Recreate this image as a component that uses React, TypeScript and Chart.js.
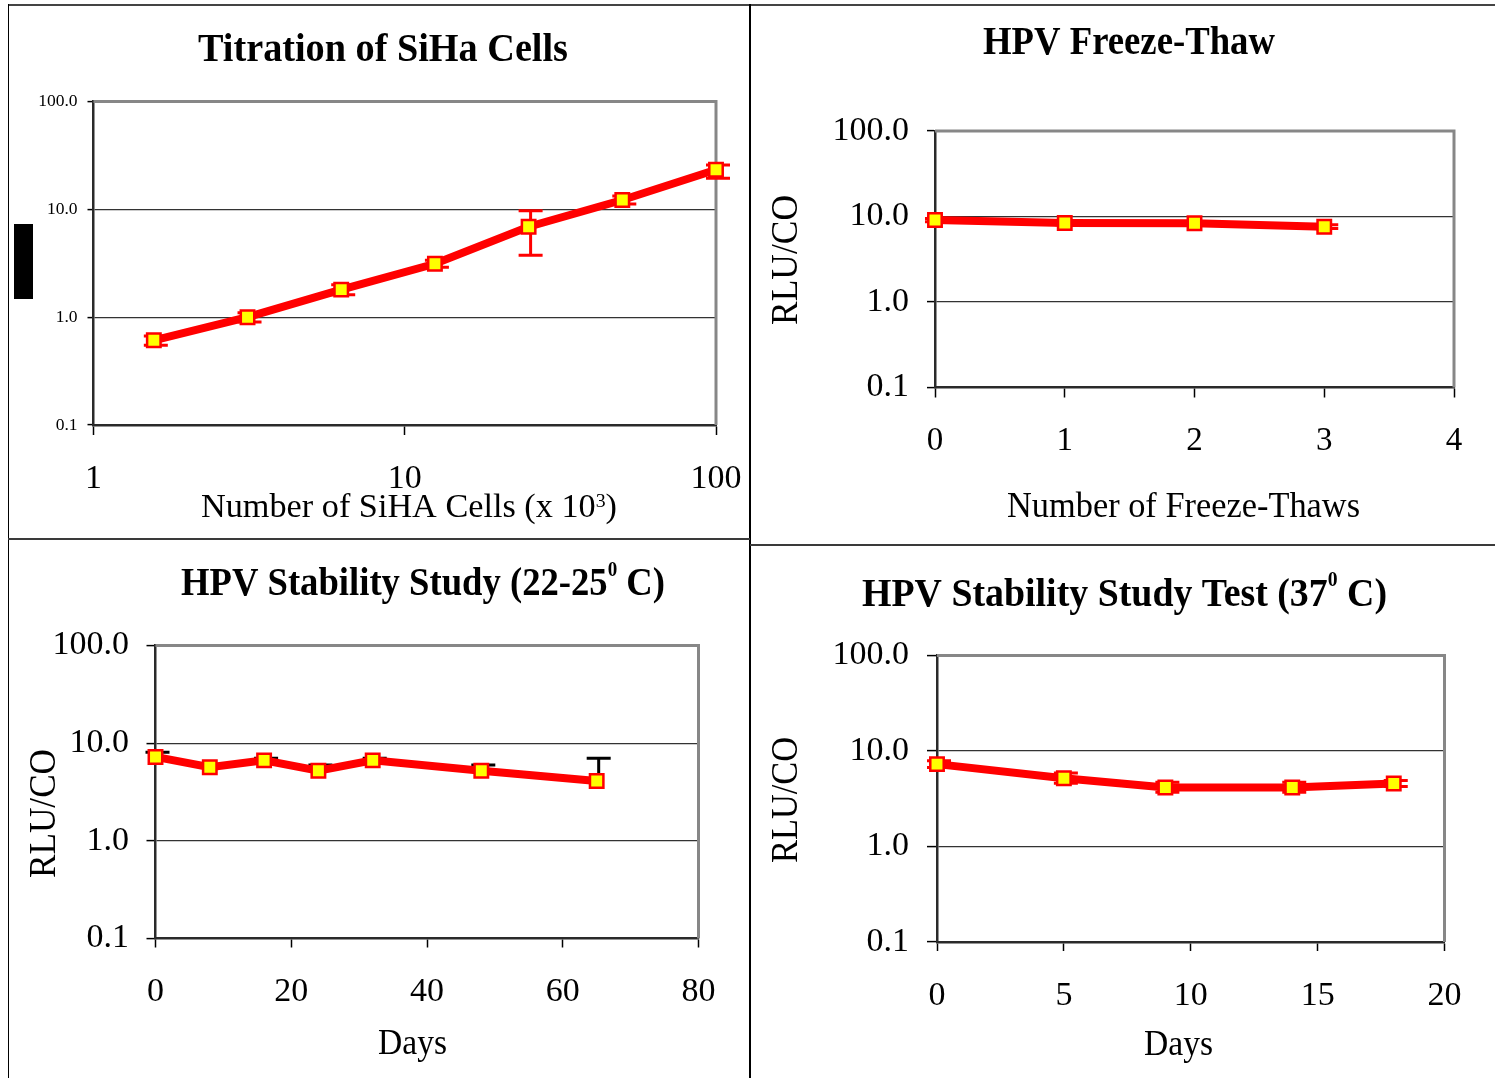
import React, { useEffect, useRef } from 'react';
import { Chart, registerables } from 'chart.js';

Chart.register(...registerables);

const FONT = "'Liberation Serif', 'Times New Roman', Times, serif";
Chart.defaults.font.family = FONT;

// ---------------- data ----------------
const yTickValues = [0.1, 1, 10, 100];

// Titration of SiHa Cells
const sihaXTicks = [1, 10, 100];
const sihaCells = [1.5625, 3.125, 6.25, 12.5, 25, 50, 100];
const sihaRluCo = [0.61, 1.0, 1.8, 3.13, 6.9, 12.2, 23.3];
const sihaErrHigh = [0.67, 1.1, 2.0, 3.37, 9.7, 13.3, 25.8];
const sihaErrLow = [0.55, 0.9, 1.61, 2.9, 3.76, 11.2, 19.4];

// HPV Freeze-Thaw
const freezeThawXTicks = [0, 1, 2, 3, 4];
const freezeThawCycles = [0, 1, 2, 3];
const freezeThawRluCo = [9.1, 8.4, 8.35, 7.6];
const freezeThawErrHigh = [9.5, 8.8, 8.7, 8.0];
const freezeThawErrLow = [8.7, 8.0, 8.0, 7.25];

// HPV Stability Study (22-25 C)
const roomXTicks = [0, 20, 40, 60, 80];
const roomDays = [0, 8, 16, 24, 32, 48, 65];
const roomRluCo = [7.23, 5.67, 6.67, 5.23, 6.67, 5.23, 4.1];
const roomErrHigh = [8.06, 5.97, 7.0, 5.97, 7.0, 5.97, 7.0];

// HPV Stability Study Test (37 C)
const hotXTicks = [0, 5, 10, 15, 20];
const hotDays = [0, 5, 9, 14, 18];
const hotRluCo = [7.29, 5.18, 4.15, 4.15, 4.57];
const hotErrHigh = [7.9, 5.9, 4.7, 4.7, 4.9];
const hotErrLow = [6.7, 4.6, 3.7, 3.7, 4.25];

// text
const sihaTitle = 'Titration of SiHa Cells';
const sihaXTitle = ['Number of SiHA Cells (x 10', '3', ')'];
const ftTitle = 'HPV Freeze-Thaw';
const ftXTitle = 'Number of Freeze-Thaws';
const yTitle = 'RLU/CO';
const roomTitle = ['HPV Stability Study (22-25', '0', ' C)'];
const hotTitle = ['HPV Stability Study Test (37', '0', ' C)'];
const daysTitle = 'Days';

// ---------------- plugins ----------------
const framePlugin: any = {
  id: 'plotFrame',
  beforeDatasetsDraw(chart: any, _a: any, opts: any) {
    const { ctx, chartArea: a } = chart;
    ctx.save();
    ctx.strokeStyle = opts.color || '#888';
    ctx.lineWidth = opts.width || 3;
    ctx.beginPath();
    ctx.moveTo(a.left, a.top);
    ctx.lineTo(a.right, a.top);
    ctx.lineTo(a.right, a.bottom);
    ctx.stroke();
    ctx.restore();
  },
};

const errorBarPlugin: any = {
  id: 'errorBars',
  beforeDatasetsDraw(chart: any, _a: any, opts: any) {
    const meta = chart.getDatasetMeta(0);
    const yScale = chart.scales.y;
    const { ctx } = chart;
    ctx.save();
    ctx.strokeStyle = opts.color;
    ctx.lineWidth = opts.width;
    meta.data.forEach((pt: any, i: number) => {
      const hi = opts.high ? opts.high[i] : null;
      const lo = opts.low ? opts.low[i] : null;
      if (hi == null && lo == null) return;
      const x = pt.x + opts.offset;
      const yc = pt.y;
      const yh = hi != null ? yScale.getPixelForValue(hi) : yc;
      const yl = lo != null ? yScale.getPixelForValue(lo) : yc;
      ctx.beginPath();
      ctx.moveTo(x, yl);
      ctx.lineTo(x, yh);
      if (hi != null) {
        ctx.moveTo(x - opts.cap, yh);
        ctx.lineTo(x + opts.cap, yh);
      }
      if (lo != null) {
        ctx.moveTo(x - opts.cap, yl);
        ctx.lineTo(x + opts.cap, yl);
      }
      ctx.stroke();
    });
    ctx.restore();
  },
};

const textPlugin: any = {
  id: 'panelTexts',
  afterDraw(chart: any, _a: any, opts: any) {
    const { ctx } = chart;
    const items = opts.items || [];
    const ox = opts.ox || 0;
    const oy = opts.oy || 0;
    for (const it of items) {
      ctx.save();
      const supScale = it.supScale || 0.55;
      const supRaise = it.supRaise || 0.45;
      const fontFor = (sup: boolean) =>
        `${it.bold ? 'bold ' : ''}${sup ? it.size * supScale : it.size}px ${FONT}`;
      let total = 0;
      const widths = it.segs.map((s: any) => {
        ctx.font = fontFor(!!s.sup);
        const w = ctx.measureText(s.t).width;
        total += w;
        return w;
      });
      const span = Math.abs(it.to - it.from);
      const sx = span / total;
      if (it.vertical) {
        ctx.translate(it.base - ox, Math.max(it.from, it.to) - oy);
        ctx.rotate(-Math.PI / 2);
      } else {
        ctx.translate(Math.min(it.from, it.to) - ox, it.base - oy);
      }
      ctx.scale(sx, 1);
      ctx.fillStyle = '#000';
      ctx.textAlign = 'left';
      ctx.textBaseline = 'alphabetic';
      let x = 0;
      it.segs.forEach((s: any, i: number) => {
        ctx.font = fontFor(!!s.sup);
        ctx.fillText(s.t, x, s.sup ? -it.size * supRaise : 0);
        x += widths[i];
      });
      ctx.restore();
    }
  },
};

// ---------------- panels ----------------
const panels: any[] = [
  {
    key: 'siha',
    canvas: { left: 10, top: 6, width: 739, height: 532 },
    area: { left: 93.5, top: 101.5, right: 716, bottom: 425 },
    xType: 'logarithmic', xMin: 1, xMax: 100, xTicks: sihaXTicks,
    xs: sihaCells, ys: sihaRluCo, errHigh: sihaErrHigh, errLow: sihaErrLow, errColor: '#ff0000',
    yTickFont: 17.5, yTickLen: 6, yTickPad: 10,
    xTickFont: 34, xTickLen: 10, xTickPad: 23.5,
    texts: [
      { segs: [{ t: sihaTitle }], from: 198, to: 568, base: 61, size: 40, bold: true },
      { segs: [{ t: sihaXTitle[0] }, { t: sihaXTitle[1], sup: true }, { t: sihaXTitle[2] }], from: 201, to: 617, base: 517, size: 34, supScale: 0.58, supRaise: 0.3 },
    ],
  },
  {
    key: 'ft',
    canvas: { left: 751, top: 6, width: 744, height: 538 },
    area: { left: 935, top: 131, right: 1454, bottom: 387.5 },
    xType: 'linear', xMin: 0, xMax: 4, xTicks: freezeThawXTicks,
    xs: freezeThawCycles, ys: freezeThawRluCo, errHigh: freezeThawErrHigh, errLow: freezeThawErrLow, errColor: '#ff0000',
    yTickFont: 34, yTickLen: 8, yTickPad: 18,
    xTickFont: 33, xTickLen: 10, xTickPad: 24.5,
    texts: [
      { segs: [{ t: ftTitle }], from: 983, to: 1275, base: 54, size: 39, bold: true },
      { segs: [{ t: yTitle }], from: 325, to: 195, base: 797, size: 38, vertical: true },
      { segs: [{ t: ftXTitle }], from: 1007, to: 1360, base: 517, size: 35 },
    ],
  },
  {
    key: 'room',
    canvas: { left: 10, top: 540, width: 739, height: 538 },
    area: { left: 155.5, top: 645.5, right: 698.5, bottom: 938.5 },
    xType: 'linear', xMin: 0, xMax: 80, xTicks: roomXTicks,
    xs: roomDays, ys: roomRluCo, errHigh: roomErrHigh, errLow: null, errColor: '#000000',
    yTickFont: 34, yTickLen: 9, yTickPad: 17.5,
    xTickFont: 34, xTickLen: 9, xTickPad: 24.5,
    texts: [
      { segs: [{ t: roomTitle[0] }, { t: roomTitle[1], sup: true }, { t: roomTitle[2] }], from: 181, to: 665, base: 595, size: 40, bold: true, supScale: 0.52, supRaise: 0.48 },
      { segs: [{ t: yTitle }], from: 878, to: 749, base: 55, size: 38, vertical: true },
      { segs: [{ t: daysTitle }], from: 378, to: 447, base: 1054, size: 35 },
    ],
  },
  {
    key: 'hot',
    canvas: { left: 751, top: 546, width: 744, height: 532 },
    area: { left: 937, top: 655.5, right: 1444.5, bottom: 942 },
    xType: 'linear', xMin: 0, xMax: 20, xTicks: hotXTicks,
    xs: hotDays, ys: hotRluCo, errHigh: hotErrHigh, errLow: hotErrLow, errColor: '#ff0000',
    yTickFont: 34, yTickLen: 10, yTickPad: 18,
    xTickFont: 34, xTickLen: 9, xTickPad: 24.5,
    texts: [
      { segs: [{ t: hotTitle[0] }, { t: hotTitle[1], sup: true }, { t: hotTitle[2] }], from: 862, to: 1387, base: 606, size: 40, bold: true, supScale: 0.52, supRaise: 0.5 },
      { segs: [{ t: yTitle }], from: 863, to: 737, base: 797, size: 38, vertical: true },
      { segs: [{ t: daysTitle }], from: 1144, to: 1213, base: 1055, size: 35 },
    ],
  },
];

function ChartPanel({ spec }: { spec: any }) {
  const ref = useRef<HTMLCanvasElement | null>(null);
  useEffect(() => {
    if (!ref.current) return;
    const { canvas: c, area } = spec;
    // axis boxes take the whole margin so tick labels are not clipped
    const yW = area.left - c.left;
    const xH = c.top + c.height - area.bottom;
    const pad = {
      left: 0,
      top: area.top - c.top,
      right: c.left + c.width - area.right,
      bottom: 0,
    };
    const chart = new Chart(ref.current, {
      type: 'line',
      data: {
        datasets: [
          {
            data: spec.xs.map((x: number, i: number) => ({ x, y: spec.ys[i] })),
            borderColor: '#ff0000',
            borderWidth: 8,
            pointStyle: 'rect',
            pointRadius: 9.5,
            pointHoverRadius: 9.5,
            pointBackgroundColor: '#ffff00',
            pointBorderColor: '#ff0000',
            pointBorderWidth: 2.5,
            tension: 0,
            fill: false,
            clip: false,
          } as any,
        ],
      },
      options: {
        responsive: false,
        animation: false,
        events: [],
        layout: { padding: pad, autoPadding: false } as any,
        plugins: {
          legend: { display: false },
          tooltip: { enabled: false },
          title: { display: false },
          plotFrame: { color: '#878787', width: 3 },
          errorBars: { high: spec.errHigh, low: spec.errLow, color: spec.errColor, width: 3, cap: 12, offset: 2 },
          panelTexts: { items: spec.texts, ox: c.left, oy: c.top },
        } as any,
        scales: {
          x: {
            type: spec.xType,
            min: spec.xMin,
            max: spec.xMax,
            afterBuildTicks: (s: any) => {
              s.ticks = spec.xTicks.map((v: number) => ({ value: v }));
            },
            afterFit: (s: any) => {
              s.height = xH;
              s.paddingLeft = 0;
              s.paddingRight = 0;
            },
            ticks: {
              callback: (v: any) => String(v),
              font: { family: FONT, size: spec.xTickFont },
              color: '#000',
              padding: spec.xTickPad,
              autoSkip: false,
              maxRotation: 0,
              minRotation: 0,
            },
            grid: {
              display: true,
              drawOnChartArea: false,
              drawTicks: true,
              tickLength: spec.xTickLen,
              tickColor: '#000',
              tickWidth: 1.5,
            },
            border: { display: true, color: '#2a2a2a', width: 2.5 },
          } as any,
          y: {
            type: 'logarithmic',
            min: 0.1,
            max: 100,
            afterBuildTicks: (s: any) => {
              s.ticks = yTickValues.map((v) => ({ value: v }));
            },
            afterFit: (s: any) => {
              s.width = yW;
              s.paddingTop = 0;
              s.paddingBottom = 0;
            },
            ticks: {
              callback: (v: any) => Number(v).toFixed(1),
              font: { family: FONT, size: spec.yTickFont },
              color: '#000',
              padding: spec.yTickPad,
              autoSkip: false,
            },
            grid: {
              display: true,
              drawTicks: true,
              color: (ctx: any) =>
                ctx.tick && (ctx.tick.value === 1 || ctx.tick.value === 10) ? '#333333' : 'rgba(0,0,0,0)',
              lineWidth: 1.2,
              tickLength: spec.yTickLen,
              tickColor: '#000',
              tickWidth: 1.5,
            },
            border: { display: true, color: '#2a2a2a', width: 2.5 },
          } as any,
        },
      },
      plugins: [framePlugin, errorBarPlugin, textPlugin],
    });
    return () => chart.destroy();
  }, [spec]);

  const c = spec.canvas;
  return (
    <canvas
      ref={ref}
      width={c.width}
      height={c.height}
      style={{ position: 'absolute', left: c.left, top: c.top, width: c.width, height: c.height }}
    />
  );
}

export default function App() {
  const line = (left: number, top: number, width: number, height: number, color: string) => (
    <div style={{ position: 'absolute', left, top, width, height, background: color }} />
  );
  return (
    <div
      style={{
        position: 'absolute',
        left: 0,
        top: 0,
        width: 1495,
        height: 1078,
        background: '#ffffff',
        overflow: 'hidden',
      }}
    >
      {panels.map((p) => (
        <ChartPanel key={p.key} spec={p} />
      ))}
      {line(8, 4, 1487, 1.6, '#444444')}
      {line(8, 4, 1.2, 1074, '#000000')}
      {line(749, 4, 1.6, 1074, '#000000')}
      {line(8, 538, 742, 1.6, '#3a3a3a')}
      {line(750, 544, 745, 1.8, '#3a3a3a')}
      <div style={{ position: 'absolute', left: 14, top: 224, width: 19, height: 75, background: '#000' }} />
    </div>
  );
}
